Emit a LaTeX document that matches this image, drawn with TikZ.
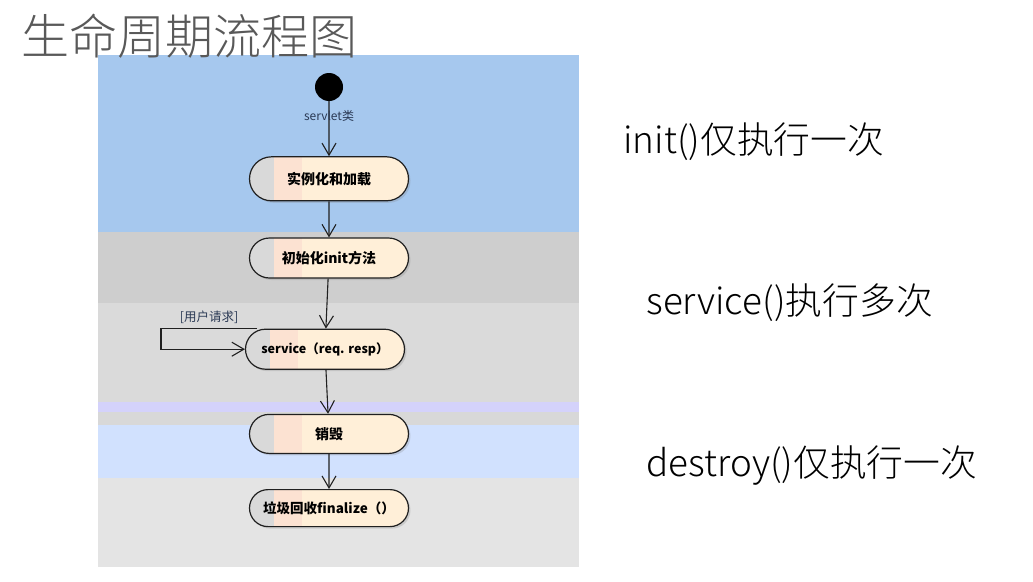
\documentclass[tikz,border=0pt]{standalone}
\usepackage{fontspec}
\newfontfamily\cjk{Noto Sans CJK SC}
\newfontfamily\cjklight{Noto Sans CJK SC Light}
\usetikzlibrary{positioning,arrows.meta,shapes.misc,shadows}

\definecolor{bandblue}{HTML}{A6C8EE}
\definecolor{bandgrayA}{HTML}{CECECE}
\definecolor{bandgrayB}{HTML}{DADADA}
\definecolor{bandlav}{HTML}{D4D2FB}
\definecolor{bandgrayC}{HTML}{D8D8D8}
\definecolor{bandlight}{HTML}{D1E1FE}
\definecolor{bandgrayD}{HTML}{E4E4E4}
\definecolor{creamfill}{HTML}{FFEFD8}
\definecolor{pinkfill}{HTML}{FCE2D2}
\definecolor{stripgray}{HTML}{D9D9D9}
\definecolor{inkline}{HTML}{202020}
\definecolor{titlegray}{HTML}{595959}
\definecolor{guardblue}{HTML}{2B3A55}

\tikzset{
  act/.style={rounded rectangle, draw=inkline, line width=1.2pt, fill=creamfill,
              minimum width=163pt, minimum height=40pt, inner sep=2pt,
              font=\cjk\bfseries\fontsize{14}{16}\selectfont,
              drop shadow={shadow xshift=2pt, shadow yshift=-2pt, opacity=0.25},
              path picture={
                \fill[stripgray] (path picture bounding box.south west) rectangle ([xshift=24pt]path picture bounding box.north west);
                \fill[pinkfill] ([xshift=24pt]path picture bounding box.south west) rectangle ([xshift=52pt]path picture bounding box.north west);
              }},
  flow/.style={draw=inkline, line width=1.1pt, -{Straight Barb[length=12pt,width=14pt]}},
  side/.style={anchor=west, font=\cjklight\fontsize{36.8}{42}\selectfont},
}

\begin{document}
\begin{tikzpicture}[x=1pt,y=-1pt]
\useasboundingbox[fill=white] (0,0) rectangle (1033,581);

% swim bands
\fill[bandblue]  (98,55)  rectangle (579,232);
\fill[bandgrayA] (98,232) rectangle (579,303);
\fill[bandgrayB] (98,303) rectangle (579,402);
\fill[bandlav]   (98,402) rectangle (579,412);
\fill[bandgrayC] (98,412) rectangle (579,425);
\fill[bandlight] (98,425) rectangle (579,478);
\fill[bandgrayD] (98,478) rectangle (579,567);

\node[text=titlegray, anchor=west, font=\cjklight\fontsize{48}{52}\selectfont] (title) at (18,36) {生命周期流程图};

% activity chain
\node[circle, fill=black, minimum size=28pt, inner sep=0pt] (start) at (329,87) {};
\node[act, minimum height=44pt, below=55pt of start] (load) {实例化和加载};
\node[act, below=36pt of load] (init) {初始化init方法};
\node[act, below=50pt of init, xshift=-4pt, font=\cjk\bfseries\fontsize{12.5}{14}\selectfont] (svc) {service（req. resp）};
\node[act, below=44pt of svc, xshift=4pt, minimum height=39pt] (kill) {销毁};
\node[act, below=35pt of kill, minimum height=37pt, font=\cjk\bfseries\fontsize{13.5}{15}\selectfont] (gc) {垃圾回收finalize（）};

\draw[flow] (start) -- node[pos=0.27, text=guardblue, font=\cjk\fontsize{12}{14}\selectfont] (cls) {servlet类} (load);
\draw[flow] (load) -- (init);
\draw[flow] (init) -- (svc);
\draw[flow] (svc) -- (kill);
\draw[flow] (kill) -- (gc);

% request loop
\draw[flow] ([xshift=-68pt]svc.north) -- node[above=1pt, text=guardblue, font=\cjk\fontsize{12.5}{14}\selectfont] (req) {[用户请求]} ++(-96pt,0) |- (svc.west);

% notes
\node[side] (once) at (620,142) {init()仅执行一次};
\node[side] (many) at (643,303) {service()执行多次};
\node[side] (last) at (643,466) {destroy()仅执行一次};
\end{tikzpicture}
\end{document}
